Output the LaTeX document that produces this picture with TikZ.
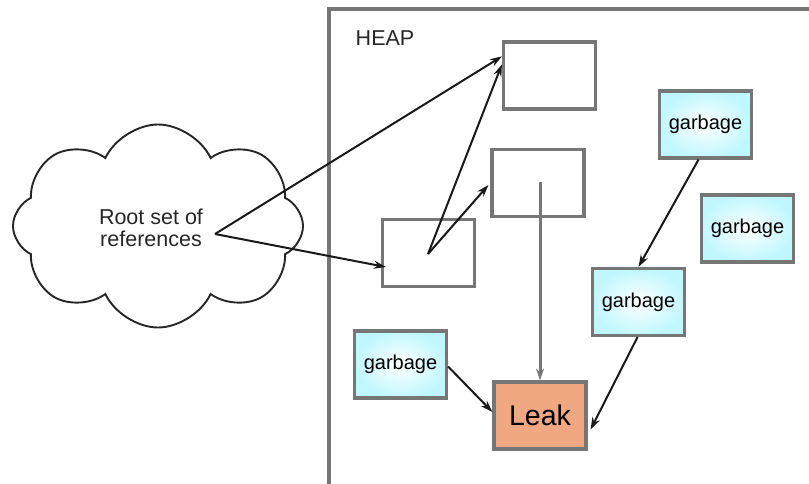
\documentclass[tikz,border=0pt]{standalone}
\usepackage{fontspec}
\setmainfont{Liberation Sans}
\usepackage{tikz}
\usetikzlibrary{shapes.symbols,arrows.meta,positioning}
\definecolor{framegray}{RGB}{118,118,118}
\definecolor{garbcyan}{RGB}{192,247,255}
\definecolor{leakorange}{RGB}{240,168,130}

\begin{document}
\begin{tikzpicture}[
        x=1pt, y=-1pt,
        font=\fontsize{20}{22}\selectfont,
        box/.style={rectangle, draw=framegray, line width=3.2pt, inner sep=0pt, minimum width=92pt, minimum height=67pt},
        garb/.style={box, inner color=white, outer color=garbcyan},
        leakbox/.style={box, fill=leakorange, font=\fontsize{28.5}{30}\selectfont},
        lbl/.style={align=center, inner sep=0pt, text=black!85},
        link/.style={-{Stealth[length=12pt,width=8pt]}, line width=2pt, black!90},
        heapline/.style={draw=framegray, line width=3.4pt}
    ]
        \useasboundingbox (0,0) rectangle (809,483);
        \draw[heapline] (329,490) |- (815,9);
        \node[lbl, font=\fontsize{21.5}{22}\selectfont] (heaplbl) at (385,38) {HEAP};

        \node[cloud, cloud puffs=8, cloud puff arc=130, cloud ignores aspect, draw=black!85, line width=1.9pt, minimum width=290pt, minimum height=203pt] (cloud) at (158,226) {};
        \node[lbl, font=\fontsize{21.5}{22}\selectfont] (rootlbl) at (151,228) {Root set of\\references};
        \coordinate (rootpt) at (215,234);

        \node[box] (objA) at (549.5,75.5) {};
        \node[box] (objB) at (538,183) {};
        \node[box] (objC) at (428.5,253) {};
        \coordinate (cpt) at (428,254);
        \coordinate (bpt) at (540,182);

        \node[leakbox] (leak) at (540,415.5) {Leak};
        \node[garb] (garb1) at (400.5,364.5) {garbage};
        \node[garb] (garb2) at (705.5,124.5) {garbage};
        \node[garb] (garb3) at (747.5,228.5) {garbage};
        \node[garb] (garb4) at (638.5,302) {garbage};

        \draw[link] (rootpt) -- ([yshift=-16pt]objA.north west);
        \draw[link] (rootpt) -- ([xshift=5pt, yshift=-14pt]objC.west);
        \draw[link] (cpt) -- ([yshift=-24pt]objA.north west);
        \draw[link] (cpt) -- ([xshift=-2pt, yshift=-2pt]objB.west);
        \draw[link, framegray, line width=3pt] (bpt) -- (leak.north);
        \draw[link] ([xshift=-7pt]garb2.south) -- (garb4.north);
        \draw[link] ([xshift=-1pt]garb4.south) -- ([xshift=3pt, yshift=-14pt]leak.east);
        \draw[link] ([yshift=-2pt]garb1.east) -- ([yshift=3.5pt]leak.west);
    \end{tikzpicture}
\end{document}
